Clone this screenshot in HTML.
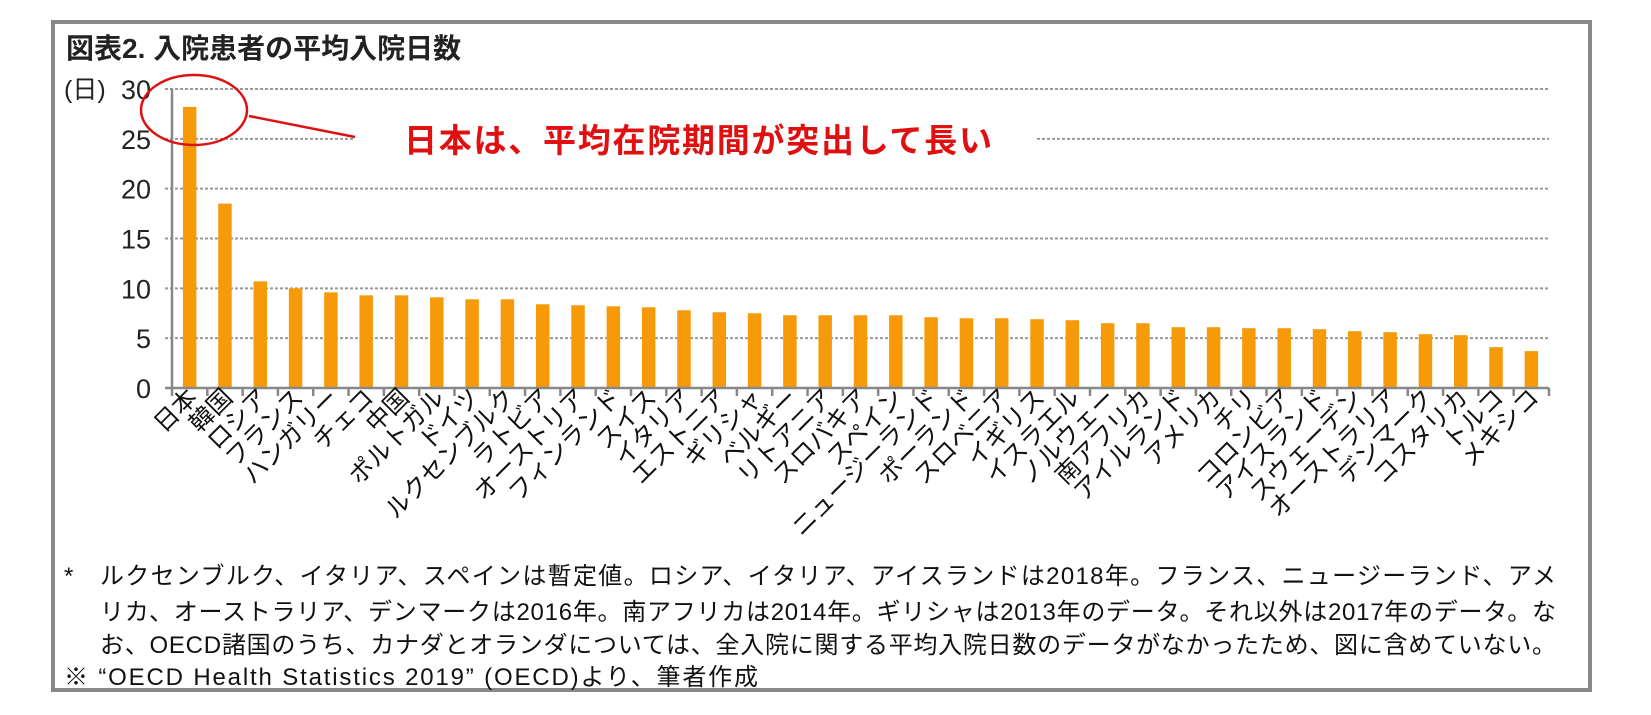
<!DOCTYPE html>
<html><head><meta charset="utf-8"><style>
html,body{margin:0;padding:0;background:#fff;}
svg{display:block;font-family:"Liberation Sans","Noto Sans CJK JP",sans-serif;}
</style></head><body>
<svg id="chart" width="1651" height="715" viewBox="0 0 1651 715">
<rect x="53" y="22" width="1537" height="668" fill="#fff" stroke="#888" stroke-width="4"/>
<text x="66" y="58" font-size="28" font-weight="bold" fill="#222">図表2.  入院患者の平均入院日数</text>
<text x="64" y="98" font-size="25" fill="#222">(日)</text>
<g id="grid"></g><g id="bars"></g><g id="yticks"></g><g id="xlabels"></g>
<ellipse cx="194" cy="110" rx="53" ry="35" fill="none" stroke="#d11" stroke-width="2.5"/>
<line x1="249" y1="116" x2="355" y2="137" stroke="#d11" stroke-width="2.5"/>
<text x="404" y="152" font-size="33" font-weight="bold" fill="#e01010" textLength="588">日本は、平均在院期間が突出して長い</text>
<g font-size="24" fill="#111">
<text x="64" y="584">*</text>
<text x="100" y="584" textLength="1456">ルクセンブルク、イタリア、スペインは暫定値。ロシア、イタリア、アイスランドは2018年。フランス、ニュージーランド、アメ</text>
<text x="100" y="620" textLength="1456">リカ、オーストラリア、デンマークは2016年。南アフリカは2014年。ギリシャは2013年のデータ。それ以外は2017年のデータ。な</text>
<text x="100" y="653" textLength="1456">お、OECD諸国のうち、カナダとオランダについては、全入院に関する平均入院日数のデータがなかったため、図に含めていない。</text>
<text x="64" y="685" textLength="694">※  “OECD Health Statistics 2019” (OECD)より、筆者作成</text>
</g>
</svg>
<script>
const categories=["日本","韓国","ロシア","フランス","ハンガリー","チェコ","中国","ポルトガル","ドイツ","ルクセンブルク","ラトビア","オーストリア","フィンランド","スイス","イタリア","エストニア","ギリシャ","ベルギー","リトアニア","スロバキア","スペイン","ニュージーランド","ポーランド","スロベニア","イギリス","イスラエル","ノルウェー","南アフリカ","アイルランド","アメリカ","チリ","コロンビア","アイスランド","スウェーデン","オーストラリア","デンマーク","コスタリカ","トルコ","メキシコ"];
const values=[28.2,18.5,10.7,10.0,9.6,9.3,9.3,9.1,8.9,8.9,8.4,8.3,8.2,8.1,7.8,7.6,7.5,7.3,7.3,7.3,7.3,7.1,7.0,7.0,6.9,6.8,6.5,6.5,6.1,6.1,6.0,6.0,5.9,5.7,5.6,5.4,5.3,4.1,3.7];
const yTicks=[0,5,10,15,20,25,30];
const NS="http://www.w3.org/2000/svg";
const x0=172,x1=1549,y0=388,yTop=89,yMax=30;
const step=(x1-x0)/categories.length;
const yS=v=>y0-(y0-yTop)*v/yMax;
const xS=i=>x0+step*(i+0.5);
function mk(tag,attrs,parent){const e=document.createElementNS(NS,tag);for(const k in attrs)e.setAttribute(k,attrs[k]);parent.appendChild(e);return e;}
const grid=document.getElementById('grid'),bars=document.getElementById('bars'),yt=document.getElementById('yticks'),xl=document.getElementById('xlabels');
yTicks.forEach(t=>{
  const y=yS(t);
  if(t>0){
    if(t===25){
      let g=mk('line',{x1:165,x2:355,y1:y,y2:y,stroke:'#999','stroke-width':2,'stroke-dasharray':'3 2'},grid);
      
      
      g=mk('line',{x1:1037,x2:x1,y1:y,y2:y,stroke:'#999','stroke-width':2,'stroke-dasharray':'3 2'},grid);
      
      
    } else {
      const g=mk('line',{x1:165,x2:x1,y1:y,y2:y,stroke:'#999','stroke-width':2,'stroke-dasharray':'3 2'},grid);
      
      
    }
  }
  const tx=mk('text',{x:151,y:y+10,'font-size':27,'text-anchor':'end',fill:'#222'},yt);
  tx.textContent=t;
  
  
});
let ax=mk('line',{x1:x0,x2:x0,y1:yTop,y2:y0,stroke:'#888','stroke-width':2.5},yt);


ax=mk('line',{x1:165,x2:x1,y1:y0,y2:y0,stroke:'#888','stroke-width':2.5},yt);


for(let i=0;i<=categories.length;i++){
  const tk=mk('line',{x1:x0+step*i,x2:x0+step*i,y1:y0,y2:y0+8,stroke:'#888','stroke-width':2.5},yt);
  
  
}
categories.forEach((c,i)=>{
  const cx=xS(i),w=13.5;
  const b=mk('rect',{x:cx-w/2,y:yS(values[i]),width:w,height:y0-yS(values[i]),fill:'#f79a0a'},bars);
  
  
  const lx=cx+9,ly=399;
  const t=mk('text',{x:lx,y:ly,'font-size':24.5,'text-anchor':'end',fill:'#111',transform:`rotate(-45 ${lx} ${ly})`},xl);
  t.textContent=c;
  
  
});
</script>
</body></html>
